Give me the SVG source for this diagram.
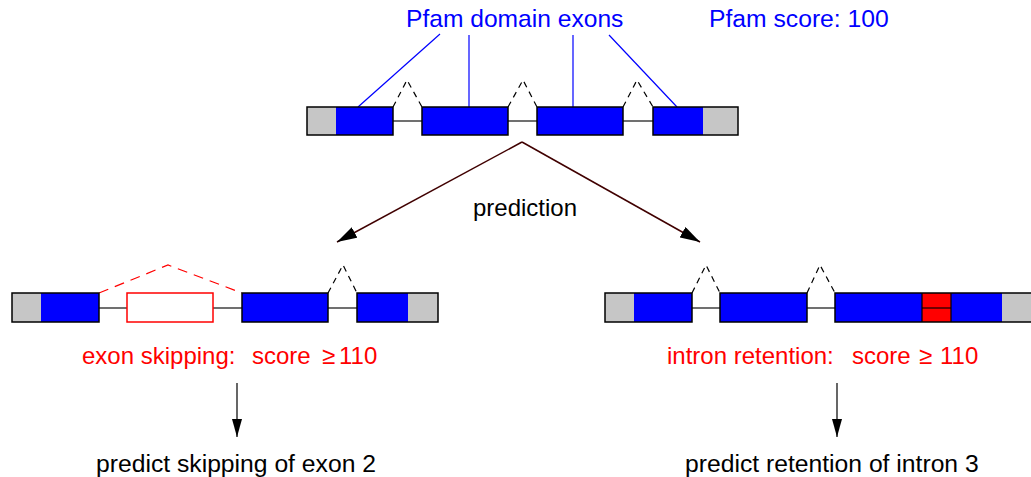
<svg xmlns="http://www.w3.org/2000/svg" width="1031" height="477" viewBox="0 0 1031 477">
<style>
text{font-family:"Liberation Sans",Arial,sans-serif;font-size:24.6px;white-space:pre}
.blue{fill:#0000ff}
.red{fill:#ff0000}
.gray{fill:#c6c6c6}
.box{fill:none;stroke:#000;stroke-width:1.5}
.intron{stroke:#707070;stroke-width:2;fill:none}
.splice{stroke:#000;stroke-width:1.2;fill:none;stroke-dasharray:6,5}
.rsplice{stroke:#ff0000;stroke-width:1.2;fill:none;stroke-dasharray:10,7}
.pf{stroke:#0000ff;stroke-width:1.2}
.conn{stroke:#400000;stroke-width:1.5;fill:none}
.down{stroke:#000;stroke-width:1.2;fill:none}
.lbl{font-size:24px}
</style>
<defs>
<marker id="ah" markerWidth="20" markerHeight="12" refX="20" refY="6" orient="auto" markerUnits="userSpaceOnUse">
<path d="M0,0 L20,6 L0,12 Z" fill="#000"/>
</marker>
<marker id="ahs" markerWidth="18" markerHeight="10" refX="18" refY="5" orient="auto" markerUnits="userSpaceOnUse">
<path d="M0,0 L18,5 L0,10 Z" fill="#000"/>
</marker>
</defs>

<g id="labels-top">
<text x="406" y="27" fill="#0000ff">Pfam domain exons</text>
<text x="709" y="27" fill="#0000ff" style="font-size:24.7px">Pfam score: 100</text>
<line class="pf" x1="440" y1="34" x2="358" y2="107"/>
<line class="pf" x1="469" y1="35" x2="469" y2="107"/>
<line class="pf" x1="573" y1="35" x2="573" y2="107"/>
<line class="pf" x1="609" y1="35" x2="677" y2="107"/>
</g>

<g id="transcript-top">
<line class="intron" x1="393" y1="121" x2="653" y2="121"/>
<path class="splice" d="M393,107 L407,80 L422,107"/>
<path class="splice" d="M508,107 L523,80 L537,107"/>
<path class="splice" d="M623,107 L637,80 L653,107"/>
<rect class="gray" x="307" y="107" width="29" height="28"/>
<rect class="blue" x="336" y="107" width="57" height="28"/>
<rect class="box" x="307" y="107" width="86" height="28"/>
<rect class="blue" x="422" y="107" width="86" height="28"/>
<rect class="box" x="422" y="107" width="86" height="28"/>
<rect class="blue" x="537" y="107" width="86" height="28"/>
<rect class="box" x="537" y="107" width="86" height="28"/>
<rect class="blue" x="653" y="107" width="50" height="28"/>
<rect class="gray" x="703" y="107" width="35" height="28"/>
<rect class="box" x="653" y="107" width="85" height="28"/>
</g>

<g id="connectors">
<line class="conn" x1="522" y1="142" x2="337" y2="242" marker-end="url(#ah)"/>
<line class="conn" x1="522" y1="142" x2="700" y2="242" marker-end="url(#ah)"/>
<line class="down" x1="237" y1="383" x2="237" y2="437" marker-end="url(#ahs)"/>
<line class="down" x1="837" y1="383" x2="837" y2="437" marker-end="url(#ahs)"/>
</g>

<g id="prediction-label">
<text x="473" y="216" fill="#000" class="lbl">prediction</text>
</g>

<g id="transcript-skip">
<line class="intron" x1="99" y1="308" x2="357" y2="308"/>
<path class="rsplice" d="M99,293 L168,265 L242,293"/>
<path class="splice" d="M328,293 L343,265 L357,293"/>
<rect class="gray" x="12" y="293" width="29" height="29"/>
<rect class="blue" x="41" y="293" width="58" height="29"/>
<rect class="box" x="12" y="293" width="87" height="29"/>
<rect x="127" y="293" width="86" height="29" fill="#fff" stroke="#ff0000" stroke-width="1.5"/>
<rect class="blue" x="242" y="293" width="86" height="29"/>
<rect class="box" x="242" y="293" width="86" height="29"/>
<rect class="blue" x="357" y="293" width="51" height="29"/>
<rect class="gray" x="408" y="293" width="30" height="29"/>
<rect class="box" x="357" y="293" width="81" height="29"/>
<text y="364" fill="#ff0000" class="lbl"><tspan x="82">exon skipping:</tspan><tspan x="252">score</tspan><tspan x="322">≥</tspan><tspan x="339">110</tspan></text>
</g>

<g id="transcript-retention">
<line class="intron" x1="692" y1="308" x2="835" y2="308"/>
<path class="splice" d="M692,293 L706,265 L720,293"/>
<path class="splice" d="M807,293 L820,265 L835,293"/>
<rect class="gray" x="605" y="293" width="29" height="29"/>
<rect class="blue" x="634" y="293" width="58" height="29"/>
<rect class="box" x="605" y="293" width="87" height="29"/>
<rect class="blue" x="720" y="293" width="87" height="29"/>
<rect class="box" x="720" y="293" width="87" height="29"/>
<rect class="blue" x="835" y="293" width="87" height="29"/>
<rect class="red" x="922" y="293" width="29" height="29"/>
<line x1="922" y1="308" x2="951" y2="308" stroke="#400000" stroke-width="1.5"/>
<rect class="blue" x="951" y="293" width="51" height="29"/>
<rect class="gray" x="1002" y="293" width="35" height="29"/>
<rect class="box" x="835" y="293" width="200" height="29"/>
<line x1="922" y1="293" x2="922" y2="322" stroke="#000" stroke-width="1.2"/>
<line x1="951" y1="293" x2="951" y2="322" stroke="#000" stroke-width="1.2"/>
<text y="364" fill="#ff0000" class="lbl"><tspan x="667">intron retention:</tspan><tspan x="852">score</tspan><tspan x="919">≥</tspan><tspan x="940">110</tspan></text>
</g>

<g id="result-skip">
<text x="96" y="472" fill="#000" style="font-size:24.7px">predict skipping of exon 2</text>
</g>
<g id="result-retention">
<text x="685" y="472" fill="#000" style="font-size:24.7px">predict retention of intron 3</text>
</g>
</svg>
